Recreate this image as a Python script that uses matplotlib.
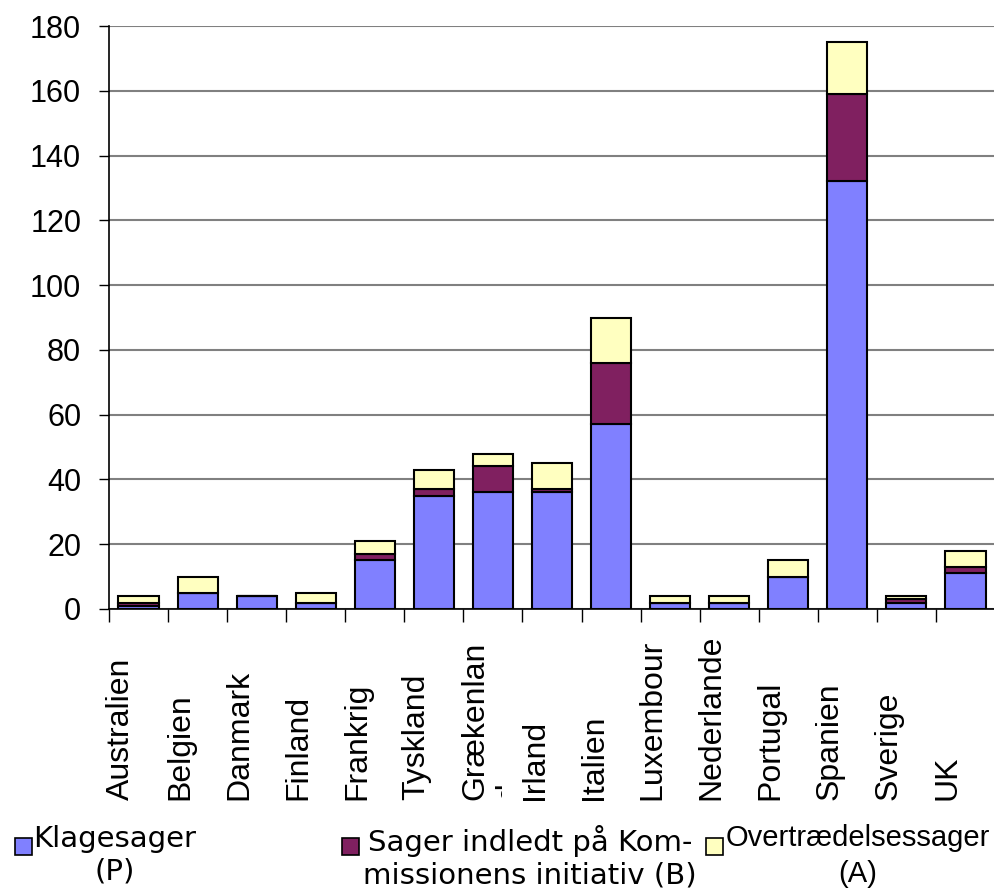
import matplotlib
matplotlib.use("Agg")
import matplotlib.pyplot as plt
import numpy as np
from matplotlib.patches import Rectangle
from matplotlib.transforms import Bbox, TransformedBbox, blended_transform_factory

# data
countries = ["Australien", "Belgien", "Danmark", "Finland", "Frankrig", "Tyskland",
             "Grækenlan\nd", "Irland", "Italien", "Luxembour\ng", "Nederlande\nne",
             "Portugal", "Spanien", "Sverige", "UK"]
klage = [1, 5, 4, 2, 15, 35, 36, 36, 57, 2, 2, 10, 132, 2, 11]
kommission = [1, 0, 0, 0, 2, 2, 8, 1, 19, 0, 0, 0, 27, 1, 2]
overtraedelse = [2, 5, 0, 3, 4, 6, 4, 8, 14, 2, 2, 5, 16, 1, 5]

series_names = ["Klagesager\n(P)",
                "Sager indledt på Kom-\nmissionens initiativ (B)",
                "Overtrædelsessager\n(A)"]
colors = ["#8080FF", "#802060", "#FFFFC0"]

W, H = 995, 890
fig = plt.figure(figsize=(W / 100, H / 100), dpi=100)


def px(x, y):
    return x / W, 1 - y / H


left, bottom = px(109, 609)
_, top = px(0, 26)
ax = fig.add_axes([left, bottom, 1 - left, top - bottom])

x = np.arange(len(countries))
vals = [np.array(klage), np.array(kommission), np.array(overtraedelse)]
base = np.zeros(len(countries))
for v, c in zip(vals, colors):
    ax.bar(x, v, bottom=base, width=0.68, color=c, edgecolor="black",
           linewidth=1.5, zorder=3)
    base = base + v

ax.set_ylim(0, 180)
ax.set_xlim(-0.5, -0.5 + (W - 109) / 60)
ax.set_yticks(np.arange(0, 181, 20))
ax.yaxis.grid(True, color="#808080", linewidth=1.5, zorder=0)
for s in ["top", "right"]:
    ax.spines[s].set_visible(False)
ax.spines["left"].set_linewidth(1.2)
ax.spines["bottom"].set_linewidth(1.2)

ax.tick_params(axis="y", direction="out", length=7, width=1, pad=13,
               labelsize=22)
for lab in ax.get_yticklabels():
    lab.set_fontfamily("Liberation Sans")

ax.set_xticks(np.arange(len(countries) + 1) - 0.5)
ax.set_xticklabels([])
ax.tick_params(axis="x", direction="out", length=9, width=1)

# category labels: bottom aligned, each clipped to its own slot
trans = blended_transform_factory(ax.transData, ax.transAxes)
y_lab = (609 - 800) / 583
for i, name in enumerate(countries):
    t = ax.text(i - 0.55, y_lab, name, transform=trans, rotation=90,
                ha="left", va="bottom", multialignment="left",
                fontsize=23, family="Liberation Sans", linespacing=1.2)
    box = Bbox([[i - 0.7, (609 - 806) / 583], [i + 0.15, (609 - 626) / 583]])
    t.set_clip_box(TransformedBbox(box, trans))
    t.set_clip_on(True)

# legend drawn by hand below the labels
marker_x = [15, 342, 706]
text_x = [115, 530, 858]
text_top = [825, 825, 824]
fonts = ["DejaVu Sans", "DejaVu Sans", "Liberation Sans"]
sizes = [21, 21, 21]
spacing = [1.2, 1.2, 1.35]
for k in range(3):
    fx, fy = px(marker_x[k], 855)
    fig.patches.append(Rectangle((fx, fy), 17 / W, 17 / H, facecolor=colors[k],
                                 edgecolor="black", linewidth=1.2,
                                 transform=fig.transFigure, figure=fig))
    tx, ty = px(text_x[k], text_top[k])
    fig.text(tx, ty, series_names[k], ha="center", va="top",
             multialignment="center", fontsize=sizes[k], family=fonts[k],
             linespacing=spacing[k])

fig.savefig("out.png", dpi=100)
